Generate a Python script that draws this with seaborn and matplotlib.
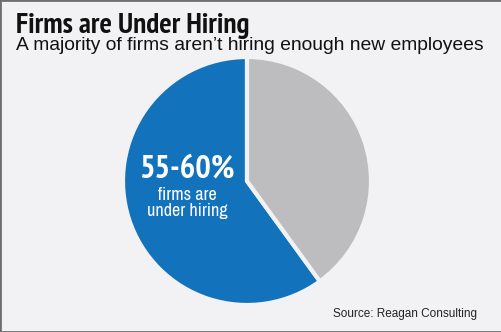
import matplotlib
matplotlib.use("Agg")
import matplotlib.pyplot as plt
from matplotlib.patches import Rectangle
import seaborn as sns

# Share of firms under hiring vs. the rest
categories = ["Under hiring", "Other firms"]
shares = [60, 40]
slice_colors = ["#1272BB", "#BDBDBF"]

title = "Firms are Under Hiring"
subtitle = "A majority of firms aren\u2019t hiring enough new employees"
big_label = "55-60%"
small_label = "firms are\nunder hiring"
source = "Source: Reagan Consulting"

sns.set_theme(style="white")
bg = "#F2F2F4"
narrow_bold = ["PT Sans Narrow", "DejaVu Sans"]
narrow = ["Archivo Narrow", "PT Sans Narrow", "DejaVu Sans"]
plain = ["Liberation Sans", "DejaVu Sans"]

W, H = 502, 332
fig = plt.figure(figsize=(W / 100, H / 100), dpi=100, facecolor=bg)

def fx(px):
    return px / W

def fy(py):
    return (H - py) / H

# Pie axes: square, centred on the pie
cx, cy, r = 247, 181, 124
ax = fig.add_axes([fx(cx - r), fy(cy + r), 2 * r / W, 2 * r / H])
ax.set_facecolor(bg)
ax.pie(shares, colors=sns.color_palette(slice_colors), startangle=90,
       counterclock=True, radius=1.0,
       wedgeprops=dict(edgecolor=bg, linewidth=3.0))
ax.set_xlim(-1, 1)
ax.set_ylim(-1, 1)
ax.set_aspect("equal")
ax.axis("off")

fig.text(fx(16), fy(33), title, family=narrow_bold, fontweight="bold",
         fontsize=21, color="#111111", va="baseline", ha="left")
fig.text(fx(16), fy(50), subtitle, family=plain, fontsize=13.9,
         color="#111111", va="baseline", ha="left")

fig.text(fx(187), fy(177), big_label, family=narrow_bold, fontweight="bold",
         fontsize=23.5, color="white", va="baseline", ha="center")
fig.text(fx(187), fy(216), small_label, family=narrow, fontsize=13,
         color="white", va="baseline", ha="center", linespacing=1.0)

fig.text(fx(477), fy(317), source, family=plain, fontsize=8.5,
         color="#222222", va="baseline", ha="right")

# Thin frame around the graphic
fig.patches.append(Rectangle((0, 0), 1, 1, transform=fig.transFigure,
                             fill=False, edgecolor="#6E6E70", linewidth=2.0,
                             figure=fig))

fig.savefig("out.png", dpi=100, facecolor=bg)
